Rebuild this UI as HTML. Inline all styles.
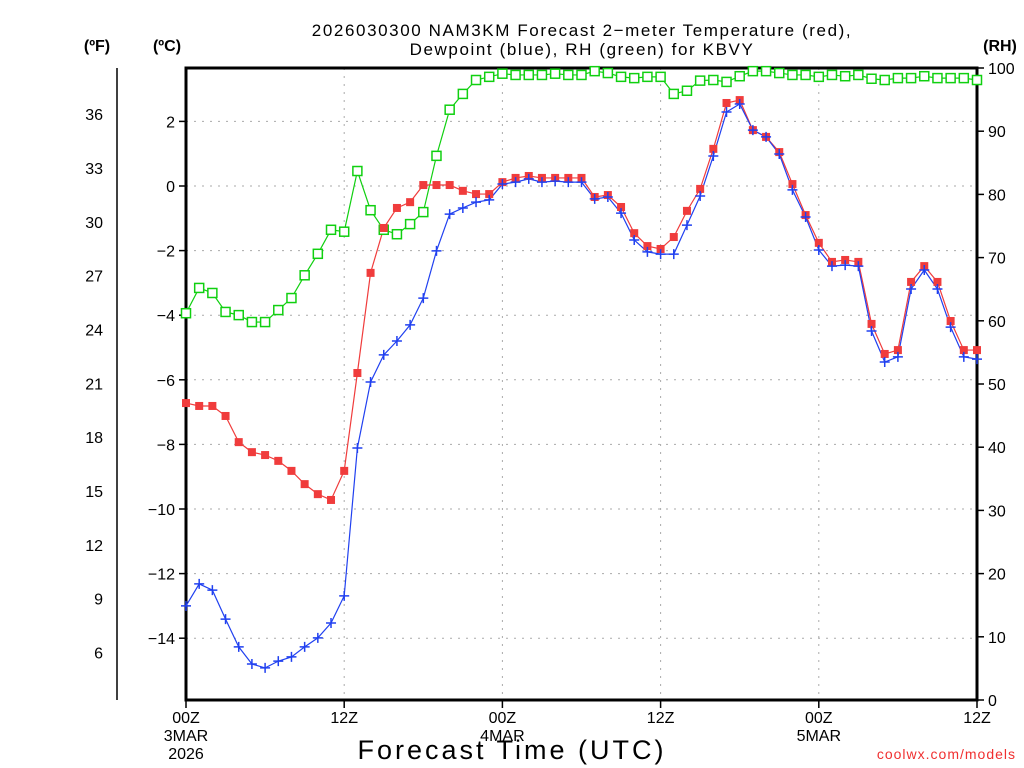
<!DOCTYPE html>
<html><head><meta charset="utf-8"><style>
html,body{margin:0;padding:0;background:#fff;}
svg{display:block;font-family:"Liberation Sans",sans-serif;}
</style></head><body>
<svg id="chart" width="1024" height="768" viewBox="0 0 1024 768" xmlns="http://www.w3.org/2000/svg">
<rect width="1024" height="768" fill="#fff"/>
<g id="grid"></g>
<g id="axes"></g>
<g id="series"></g>
<text x="582" y="36" text-anchor="middle" font-size="17" letter-spacing="1.6">2026030300 NAM3KM Forecast 2−meter Temperature (red),</text>
<text x="582" y="55" text-anchor="middle" font-size="17" letter-spacing="1.6">Dewpoint (blue), RH (green) for KBVY</text>
<text x="97" y="51" text-anchor="middle" font-size="16" font-weight="bold">(ºF)</text>
<text x="167" y="51" text-anchor="middle" font-size="16" font-weight="bold">(ºC)</text>
<text x="1000" y="51" text-anchor="middle" font-size="16" font-weight="bold">(RH)</text>
<text x="512" y="759" text-anchor="middle" font-size="27" letter-spacing="3">Forecast Time (UTC)</text>
<text x="1016" y="759" text-anchor="end" font-size="14" fill="#f03030" letter-spacing="1">coolwx.com/models</text>
</svg>
<script>
const hours = [];
for (let h = 0; h <= 60; h++) hours.push(h);
const tempC = [-6.72,-6.81,-6.81,-7.12,-7.93,-8.24,-8.33,-8.51,-8.82,-9.23,-9.54,-9.72,-8.82,-5.79,-2.69,-1.30,-0.68,-0.50,0.03,0.03,0.03,-0.15,-0.25,-0.25,0.12,0.25,0.31,0.25,0.25,0.25,0.25,-0.34,-0.28,-0.65,-1.46,-1.86,-1.95,-1.58,-0.77,-0.09,1.15,2.57,2.66,1.73,1.52,1.05,0.06,-0.90,-1.76,-2.35,-2.29,-2.35,-4.27,-5.20,-5.08,-2.97,-2.48,-2.97,-4.18,-5.08,-5.08];
const dewC = [-13.00,-12.32,-12.51,-13.41,-14.27,-14.80,-14.92,-14.71,-14.58,-14.27,-13.99,-13.53,-12.69,-8.11,-6.07,-5.23,-4.80,-4.30,-3.47,-2.01,-0.87,-0.68,-0.50,-0.43,0.06,0.12,0.22,0.12,0.15,0.12,0.12,-0.40,-0.34,-0.84,-1.67,-2.04,-2.11,-2.11,-1.21,-0.31,0.93,2.29,2.54,1.73,1.52,0.99,-0.12,-0.96,-1.98,-2.48,-2.45,-2.48,-4.49,-5.45,-5.29,-3.19,-2.60,-3.19,-4.37,-5.29,-5.36];
const rh = [61.2,65.2,64.4,61.4,60.9,59.8,59.8,61.7,63.6,67.2,70.6,74.4,74.1,83.7,77.5,74.4,73.7,75.3,77.2,86.1,93.4,95.9,98.1,98.6,99.1,98.9,98.9,98.9,99.1,98.9,98.9,99.5,99.2,98.6,98.4,98.6,98.6,95.9,96.4,98.0,98.1,97.8,98.7,99.5,99.5,99.2,98.9,98.9,98.6,98.9,98.7,98.9,98.3,98.1,98.4,98.4,98.7,98.4,98.4,98.4,98.1];
const celsiusTicks = [2,0,-2,-4,-6,-8,-10,-12,-14];
const fahrenheitTicks = [36,33,30,27,24,21,18,15,12,9,6];
const rhTicks = [100,90,80,70,60,50,40,30,20,10,0];
const timeTicks = [0,12,24,36,48,60];
const timeLabels = ["00Z","12Z","00Z","12Z","00Z","12Z"];
const dateLabels = [["3MAR","2026"],null,["4MAR"],null,["5MAR"],null];

const X0=186,X1=977,Y0=68,Y1=700;
const xS=h=>X0+(X1-X0)*h/60;
const yC=c=>186-c*32.3;
const yF=f=>yC((f-32)*5/9);
const yR=r=>Y1-(Y1-Y0)*r/100;
const NS="http://www.w3.org/2000/svg";
function mk(tag,attrs,parent){const e=document.createElementNS(NS,tag);for(const k in attrs)e.setAttribute(k,attrs[k]);parent.appendChild(e);return e;}
const grid=document.getElementById('grid'),axes=document.getElementById('axes'),ser=document.getElementById('series');

celsiusTicks.forEach(c=>{
  const y=yC(c);
  const g=mk('line',{x1:X0,x2:X1,y1:y,y2:y,stroke:'#aaa','stroke-dasharray':'2,6'},grid);
  
  
  const t=mk('line',{x1:X0-7,x2:X0,y1:y,y2:y,stroke:'#000','stroke-width':1.5},axes);
  
  
  const l=mk('text',{x:X0-11,y:y+6,'text-anchor':'end','font-size':16},axes);
  l.textContent=String(c).replace('-','−');
  
  
});
timeTicks.forEach((h,i)=>{
  const x=xS(h);
  if(i>0&&i<timeTicks.length-1){
    const g=mk('line',{x1:x,x2:x,y1:Y0,y2:Y1,stroke:'#aaa','stroke-dasharray':'2,6'},grid);
    
    
  }
  const t=mk('line',{x1:x,x2:x,y1:Y1,y2:Y1+8,stroke:'#000','stroke-width':1.5},axes);
  
  
  const l=mk('text',{x:x,y:723,'text-anchor':'middle','font-size':16},axes);
  l.textContent=timeLabels[i];
  
  
  if(dateLabels[i]) dateLabels[i].forEach((d,j)=>{
    const dl=mk('text',{x:x,y:741+j*18,'text-anchor':'middle','font-size':16},axes);
    dl.textContent=d;
    
    
  });
});
const fl=mk('line',{x1:117,x2:117,y1:Y0,y2:Y1,stroke:'#000','stroke-width':1.5},axes);


fahrenheitTicks.forEach(f=>{
  const y=yF(f);
  const l=mk('text',{x:103,y:y+6,'text-anchor':'end','font-size':16},axes);
  l.textContent=f;
  
  
});
rhTicks.forEach(r=>{
  const y=yR(r);
  const t=mk('line',{x1:X1,x2:X1+7,y1:y,y2:y,stroke:'#000','stroke-width':1.5},axes);
  
  
  const l=mk('text',{x:X1+11,y:y+6,'font-size':16},axes);
  l.textContent=r;
  
  
});
const frame=mk('rect',{x:X0,y:Y0,width:X1-X0,height:Y1-Y0,fill:'none',stroke:'#000','stroke-width':3},axes);



function line(vals,yf,color,name){
  const p=mk('polyline',{points:vals.map((v,i)=>xS(hours[i])+','+yf(v)).join(' '),fill:'none',stroke:color,'stroke-width':1.2},ser);
  
  
}
line(rh,yR,'#10d010','rh');
line(tempC,yC,'#f03c3c','temperature');
line(dewC,yC,'#2040f0','dewpoint');
rh.forEach((v,i)=>{
  const m=mk('rect',{x:xS(hours[i])-4.5,y:yR(v)-4.5,width:9,height:9,fill:'#fff',stroke:'#10d010','stroke-width':1.5},ser);
  
  
});
tempC.forEach((v,i)=>{
  const m=mk('rect',{x:xS(hours[i])-4,y:yC(v)-4,width:8,height:8,fill:'#f03c3c'},ser);
  
  
});
dewC.forEach((v,i)=>{
  const x=xS(hours[i]),y=yC(v);
  const m=mk('path',{d:`M${x-5},${y}H${x+5}M${x},${y-5}V${y+5}`,stroke:'#2040f0','stroke-width':1.5},ser);
  
  
});
</script>
</body></html>
